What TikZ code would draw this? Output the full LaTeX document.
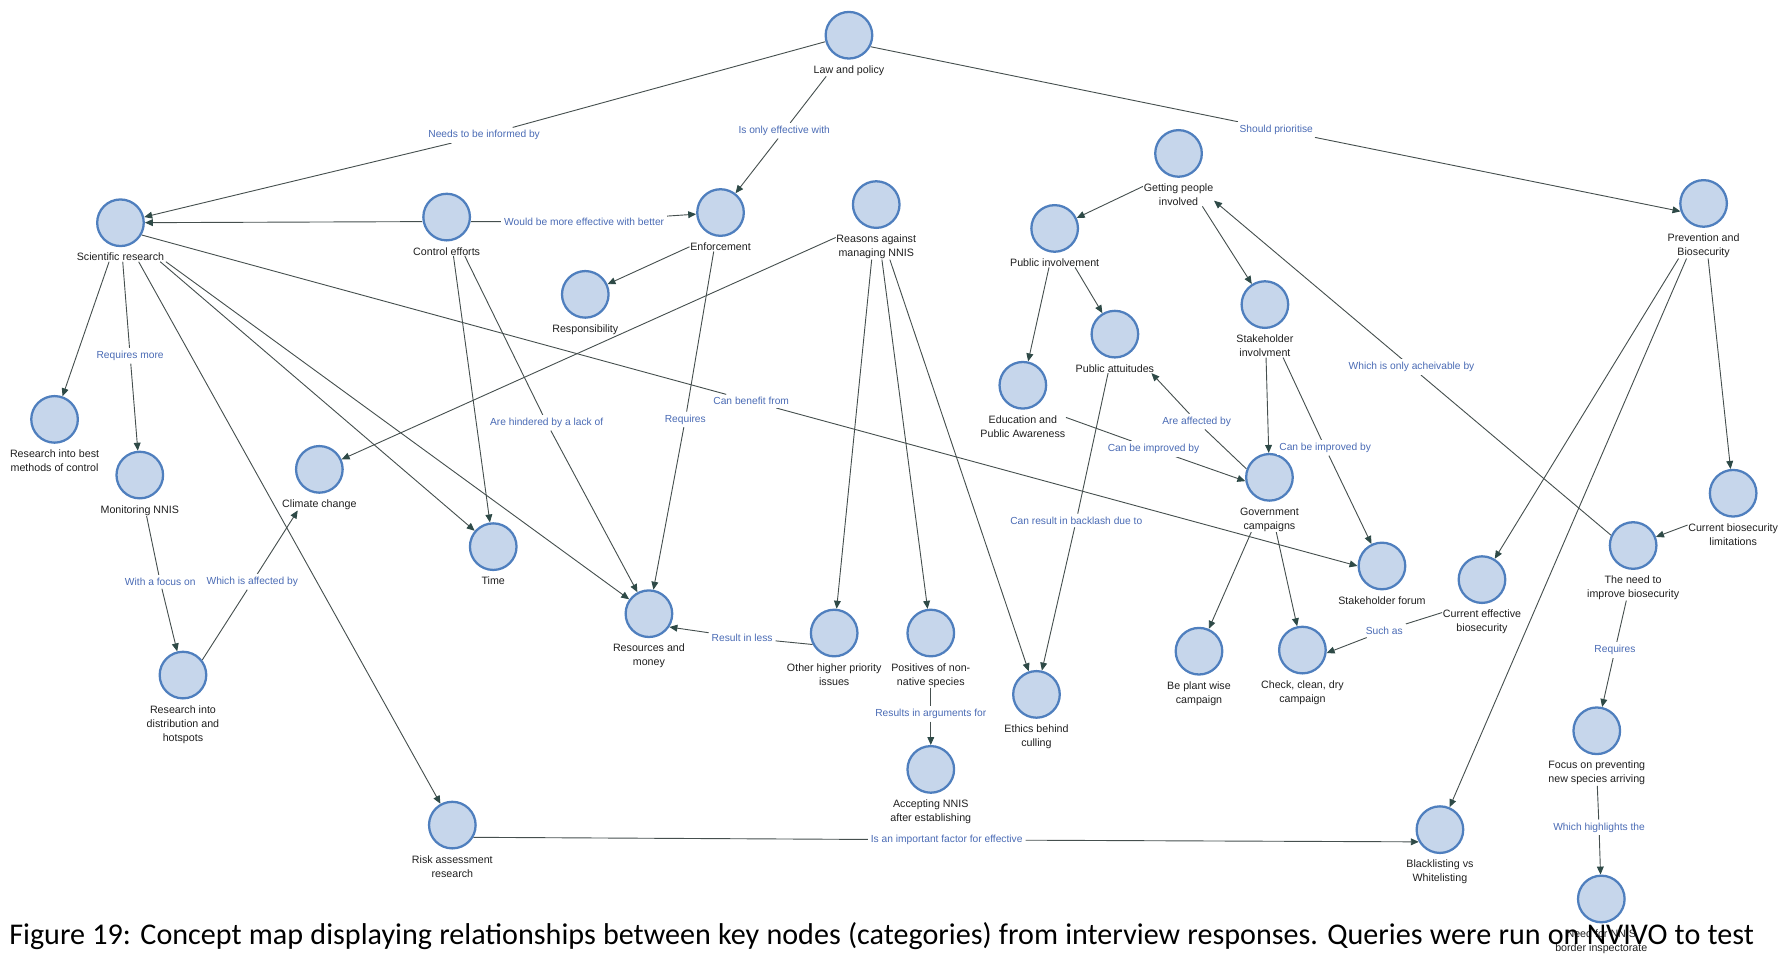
\documentclass[tikz,border=0pt]{standalone}
\usepackage{fontspec}
\setmainfont{Liberation Sans}
\newfontfamily\capfont{Carlito}
\usetikzlibrary{arrows.meta,backgrounds}
\definecolor{cfill}{HTML}{C6D6EB}
\definecolor{cdraw}{HTML}{4F7FBE}
\definecolor{elab}{HTML}{4A6BB5}
\definecolor{eline}{HTML}{454F4E}
\definecolor{ahead}{HTML}{2E4A47}
\newcommand\cnode[4]{%
  \node[concept] (#1) at (#2,#3) {};
  \node[clabel] (#1-l) at ([yshift=-4.5pt]#1.south) {#4};}
\begin{document}
\begin{tikzpicture}[x=1pt,y=-1pt,
  concept/.style={circle, fill=cfill, draw=cdraw, line width=2pt, minimum size=41pt, inner sep=0pt},
  clabel/.style={font=\fontsize{9.4}{12.3}\selectfont, text=black!88, align=center, inner sep=0.5pt, anchor=north},
  elabel/.style={font=\fontsize{9}{11}\selectfont, text=elab, fill=white, inner sep=2.5pt},
  link/.style={draw=eline, line width=0.8pt},
  arr/.style={link, -{Triangle[length=7pt,width=6pt,color=ahead]}}]
\useasboundingbox (0,0) rectangle (1568,839);

% concepts
\cnode{law}{747}{31}{Law and policy}
\cnode{sci}{106}{196}{Scientific research}
\cnode{ctrl}{393}{191}{Control efforts}
\cnode{enf}{634}{187}{Enforcement}
\cnode{reas}{771}{180}{Reasons against\\managing NNIS}
\cnode{resp}{515}{259}{Responsibility}
\cnode{gpi}{1037}{135}{Getting people\\involved}
\cnode{pubinv}{928}{201}{Public involvement}
\cnode{pubatt}{981}{294}{Public attuitudes}
\cnode{edu}{900}{339}{Education and\\Public Awareness}
\cnode{stinv}{1113}{268}{Stakeholder\\involvment}
\cnode{prev}{1499}{179}{Prevention and\\Biosecurity}
\cnode{rbest}{48}{369}{Research into best\\methods of control}
\cnode{mon}{123}{418}{Monitoring NNIS}
\cnode{clim}{281}{413}{Climate change}
\cnode{time}{434}{481}{Time}
\cnode{res}{571}{540}{Resources and\\money}
\cnode{other}{734}{557}{Other higher priority\\issues}
\cnode{posi}{819}{557}{Positives of non-\\native species}
\cnode{acc}{819}{677}{Accepting NNIS\\after establishing}
\cnode{eth}{912}{611}{Ethics behind\\culling}
\cnode{rdist}{161}{594}{Research into\\distribution and\\hotspots}
\cnode{risk}{398}{726}{Risk assessment\\research}
\cnode{govt}{1117}{420}{Government\\campaigns}
\cnode{sforum}{1216}{498}{Stakeholder forum}
\cnode{ceb}{1304}{510}{Current effective\\biosecurity}
\cnode{bpw}{1055}{573}{Be plant wise\\campaign}
\cnode{ccd}{1146}{572}{Check, clean, dry\\campaign}
\cnode{need}{1437}{480}{The need to\\improve biosecurity}
\cnode{cbl}{1525}{434}{Current biosecurity\\limitations}
\cnode{focus}{1405}{643}{Focus on preventing\\new species arriving}
\cnode{black}{1267}{730}{Blacklisting vs\\Whitelisting}
\cnode{nnis}{1409}{791}{Need for NNIS\\border inspectorate}

% edge labels
\node[elabel] (t1) at (426,119) {Needs to be informed by};
\node[elabel] (t3) at (514,195) {Would be more effective with better};
\node[elabel] (t4) at (690,115) {Is only effective with};
\node[elabel] (t6) at (1123,114) {Should prioritise};
\node[elabel] (t8) at (114.5,313) {Requires more};
\node[elabel] (t12) at (661,353) {Can benefit from};
\node[elabel] (t14) at (481,372) {Are hindered by a lack of};
\node[elabel] (t15) at (603,369) {Requires};
\node[elabel] (t20) at (653,561) {Result in less};
\node[elabel] (t21) at (819,628) {Results in arguments for};
\node[elabel] (t22) at (141,512) {With a focus on};
\node[elabel] (t23) at (222,512) {Which is affected by};
\node[elabel] (t24) at (833,739) {Is an important factor for effective};
\node[elabel] (t29) at (947,458) {Can result in backlash due to};
\node[elabel] (t30) at (1053,371) {Are affected by};
\node[elabel] (t31) at (1015,395) {Can be improved by};
\node[elabel] (t33) at (1166,394) {Can be improved by};
\node[elabel] (t36) at (1218,555) {Such as};
\node[elabel] (t37) at (1242,323) {Which is only acheivable by};
\node[elabel] (t42) at (1421,572) {Requires};
\node[elabel] (t43) at (1407,728) {Which highlights the};

% connectors
\begin{scope}[on background layer]
\draw[arr] (law) -- (t1) -- (sci);
\draw[arr] ([yshift=-4pt]ctrl.west) -- (sci);
\draw[arr] ([yshift=-4pt]ctrl.east) -- (t3) -- (enf);
\draw[arr] ([xshift=-20pt]law-l.south) -- (t4) -- (enf);
\draw[arr] (enf-l.west) -- (resp);
\draw[arr] (law.-28) -- (t6) -- (prev.199);
\draw[arr] ([xshift=-10pt]sci-l.south) -- (rbest);
\draw[arr] ([xshift=2pt]sci-l.south) -- (t8) -- (mon);
\draw[arr] ([xshift=16pt]sci-l.south) -- (risk);
\draw[arr] ([xshift=35pt]sci-l.south) -- (time);
\draw[arr] ([xshift=40pt]sci-l.south) -- (res);
\draw[arr] (sci.-30) -- (t12) -- (sforum.west);
\draw[arr] ([xshift=6pt]ctrl-l.south) -- (time);
\draw[arr] ([xshift=16pt]ctrl-l.south) -- (t14) -- (res);
\draw[arr] ([xshift=-6pt]enf-l.south) -- (t15) -- (res);
\draw[arr] ([yshift=-3pt]reas-l.north west) -- (clim);
\draw[arr] ([xshift=-4pt]reas-l.south) -- (other);
\draw[arr] ([xshift=5pt]reas-l.south) -- (posi);
\draw[arr] ([xshift=12pt]reas-l.south) -- (eth);
\draw[arr] (other.208) -- (t20) -- (res.-33);
\draw[arr] (posi-l) -- (t21) -- (acc);
\draw[arr] ([xshift=6pt]mon-l.south) -- (t22) -- (rdist);
\draw[arr] (rdist.38) -- (t23) -- ([xshift=-19pt]clim-l.south);
\draw[arr] (risk.-30) -- (t24) -- (black.210);
\draw[arr] ([yshift=-3pt]gpi-l.north west) -- (pubinv);
\draw[arr] ([xshift=21pt]gpi-l.south) -- (stinv);
\draw[arr] ([xshift=-5pt]pubinv-l.south) -- (edu);
\draw[arr] ([xshift=18pt]pubinv-l.south) -- (pubatt);
\draw[arr] ([xshift=-6pt]pubatt-l.south) -- (t29) -- (eth);
\draw[arr] (govt.160) -- (t30) -- ([xshift=-3pt]pubatt-l.south east);
\draw[arr] ([yshift=8pt]edu-l.east) -- (t31) -- (govt.189);
\draw[arr] ([xshift=1pt]stinv-l.south) -- (govt);
\draw[arr] ([xshift=16pt]stinv-l.south) -- (t33) -- (sforum);
\draw[arr] ([xshift=-16pt]govt-l.south) -- (bpw);
\draw[arr] ([xshift=6pt]govt-l.south) -- (ccd);
\draw[arr] ([yshift=-3pt]ceb-l.north west) -- (t36) -- (ccd.-7);
\draw[arr] (need.155) -- (t37) -- ([yshift=5pt]gpi-l.south east);
\draw[arr] ([xshift=-22pt]prev-l.south) -- (ceb);
\draw[arr] ([xshift=-15pt]prev-l.south) -- (black);
\draw[arr] ([xshift=4pt]prev-l.south) -- (cbl);
\draw[arr] ([yshift=-2pt]cbl-l.north west) -- (need);
\draw[arr] ([xshift=-6pt]need-l.south) -- (t42) -- (focus);
\draw[arr] (focus-l) -- (t43) -- (nnis);
\end{scope}

% caption
\node[anchor=base west, inner sep=0pt, font=\capfont\fontsize{26.5}{30}\selectfont] (cap) at (8,831)
  {\spaceskip=0.24em Figure 19: Concept map displaying relationships between key nodes (categories) from interview responses. Queries were run on NVIVO to test};
\end{tikzpicture}
\end{document}
